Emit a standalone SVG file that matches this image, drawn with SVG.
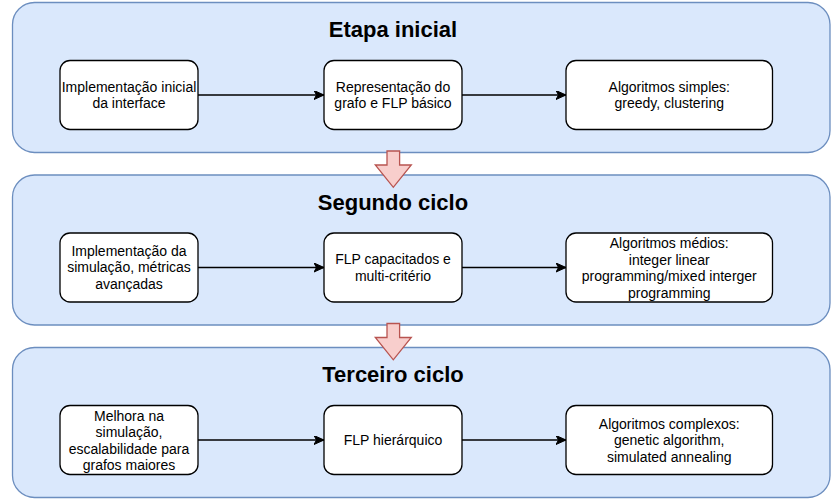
<svg xmlns="http://www.w3.org/2000/svg" width="840" height="503" viewBox="0 0 840 503">
<style>
.stage{fill:#dae8fc;stroke:#6c8ebf;stroke-width:1.3}
.node rect{fill:#ffffff;stroke:#000000;stroke-width:1.3}
.node text{font-family:"Liberation Sans",Arial,sans-serif;font-size:14px;fill:#000;text-anchor:middle}
.title{font-family:"Liberation Sans",Arial,sans-serif;font-size:22px;font-weight:bold;fill:#000;text-anchor:middle}
.flow{fill:#f8cecc;stroke:#b85450;stroke-width:1.3}
.edge{stroke:#000;stroke-width:1.3;fill:none;marker-end:url(#arr)}
</style>
<defs>
<marker id="arr" markerUnits="userSpaceOnUse" markerWidth="12" markerHeight="10" viewBox="0 0 12 10" refX="10" refY="4.5" orient="auto">
<path d="M0,0 L10,4.5 L0,9 L2.5,4.5 Z" fill="#000" stroke="#000" stroke-width="1"/>
</marker>
</defs>
<g id="stage1">
<rect class="stage" x="12.5" y="2.5" width="817.5" height="150" rx="22" ry="22"/>
<text class="title" x="393" y="37">Etapa inicial</text>
</g>
<g id="stage2">
<rect class="stage" x="12.5" y="175" width="817.5" height="150" rx="22" ry="22"/>
<text class="title" x="393" y="209.5">Segundo ciclo</text>
</g>
<g id="stage3">
<rect class="stage" x="12.5" y="347.5" width="817.5" height="150" rx="22" ry="22"/>
<text class="title" x="393" y="382">Terceiro ciclo</text>
</g>
<g id="flow1"><path class="flow" d="M387,151 L399.6,151 L399.6,165 L411.3,165 L393.3,187.3 L375.3,165 L387,165 Z"/></g>
<g id="flow2"><path class="flow" d="M387,323.5 L399.6,323.5 L399.6,337.5 L411.3,337.5 L393.3,359.8 L375.3,337.5 L387,337.5 Z"/></g>
<g id="connectors">
<path class="edge" d="M198,95 L324,95"/>
<path class="edge" d="M462,95 L566,95"/>
<path class="edge" d="M198,267.5 L324,267.5"/>
<path class="edge" d="M462,267.5 L566,267.5"/>
<path class="edge" d="M198,440 L324,440"/>
<path class="edge" d="M462,440 L566,440"/>
</g>
<g id="n1a" class="node">
<rect x="60" y="60.5" width="138" height="69" rx="10" ry="10"/>
<text x="129" y="91.5">Implementação inicial</text>
<text x="129" y="108">da interface</text>
</g>
<g id="n1b" class="node">
<rect x="324" y="60.5" width="138" height="69" rx="10" ry="10"/>
<text x="393" y="91.5">Representação do</text>
<text x="393" y="108">grafo e FLP básico</text>
</g>
<g id="n1c" class="node">
<rect x="566" y="60.5" width="206.5" height="69" rx="10" ry="10"/>
<text x="669.25" y="91.5">Algoritmos simples:</text>
<text x="669.25" y="108">greedy, clustering</text>
</g>
<g id="n2a" class="node">
<rect x="60" y="233" width="138" height="69" rx="10" ry="10"/>
<text x="129" y="255.5">Implementação da</text>
<text x="129" y="272">simulação, métricas</text>
<text x="129" y="288.5">avançadas</text>
</g>
<g id="n2b" class="node">
<rect x="324" y="233" width="138" height="69" rx="10" ry="10"/>
<text x="393" y="264">FLP capacitados e</text>
<text x="393" y="280.5">multi-critério</text>
</g>
<g id="n2c" class="node">
<rect x="566" y="233" width="206.5" height="69" rx="10" ry="10"/>
<text x="669.25" y="248">Algoritmos médios:</text>
<text x="669.25" y="264.5">integer linear</text>
<text x="669.25" y="281">programming/mixed interger</text>
<text x="669.25" y="297.5">programming</text>
</g>
<g id="n3a" class="node">
<rect x="60" y="405.5" width="138" height="69" rx="10" ry="10"/>
<text x="129" y="420.5">Melhora na</text>
<text x="129" y="437">simulação,</text>
<text x="129" y="453.5">escalabilidade para</text>
<text x="129" y="470">grafos maiores</text>
</g>
<g id="n3b" class="node">
<rect x="324" y="405.5" width="138" height="69" rx="10" ry="10"/>
<text x="393" y="445">FLP hierárquico</text>
</g>
<g id="n3c" class="node">
<rect x="566" y="405.5" width="206.5" height="69" rx="10" ry="10"/>
<text x="669.25" y="428.5">Algoritmos complexos:</text>
<text x="669.25" y="445">genetic algorithm,</text>
<text x="669.25" y="461.5">simulated annealing</text>
</g>
</svg>
